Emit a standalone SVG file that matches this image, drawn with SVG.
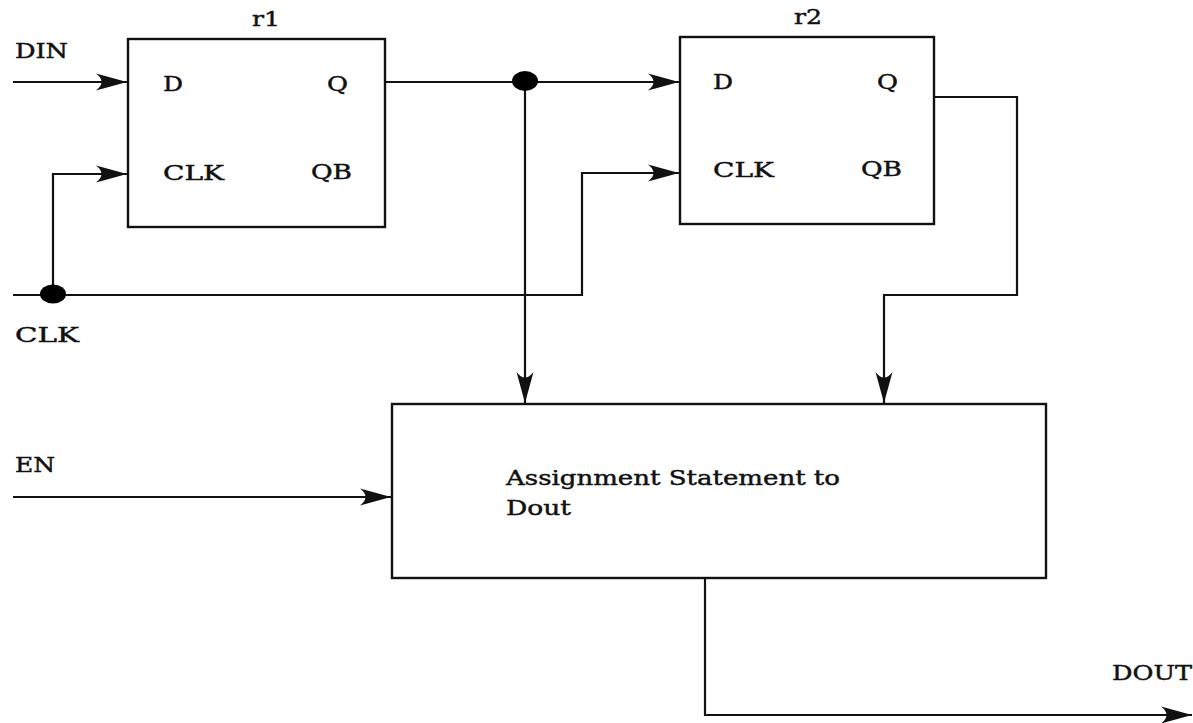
<svg xmlns="http://www.w3.org/2000/svg" width="1193" height="723" viewBox="0 0 1193 723">
<style>
.box{fill:#fff;stroke:#111;stroke-width:2.4}
.w{fill:none;stroke:#111;stroke-width:2.2}
.t{font-family:"DejaVu Serif","Liberation Serif",serif;font-size:20px;fill:#111;stroke:#111;stroke-width:0.45}
</style>
<defs>
<marker id="ah" markerUnits="userSpaceOnUse" viewBox="-31 -9 32 18" refX="0" refY="0" markerWidth="32" markerHeight="18" orient="auto">
<path d="M0,0 L-31,-8.5 Q-20,0 -31,8.5 Z" fill="#111"/>
</marker>
</defs>
<rect width="1193" height="723" fill="#fff"/>
<g id="connectors">
<path class="w" d="M13,82 H127" marker-end="url(#ah)"/>
<path class="w" d="M53,295 V174 H127" marker-end="url(#ah)"/>
<path class="w" d="M13,295 H582 V173 H679" marker-end="url(#ah)"/>
<path class="w" d="M385,82 H679" marker-end="url(#ah)"/>
<path class="w" d="M525,82 V403" marker-end="url(#ah)"/>
<path class="w" d="M934,97 H1017 V295 H884 V403" marker-end="url(#ah)"/>
<path class="w" d="M13,497 H391" marker-end="url(#ah)"/>
<path class="w" d="M705,578 V715 H1192" marker-end="url(#ah)"/>
<ellipse cx="53" cy="294" rx="13" ry="9.5" fill="#000"/>
<ellipse cx="525" cy="81" rx="13" ry="10" fill="#000"/>
</g>
<g id="r1">
<rect class="box" x="128" y="39" width="257" height="188"/>
<text class="t" x="252" y="26" textLength="28" lengthAdjust="spacingAndGlyphs">r1</text>
<text class="t" x="163" y="91" textLength="20" lengthAdjust="spacingAndGlyphs">D</text>
<text class="t" x="327" y="91" textLength="21" lengthAdjust="spacingAndGlyphs">Q</text>
<text class="t" x="163" y="180" textLength="61" lengthAdjust="spacingAndGlyphs">CLK</text>
<text class="t" x="311" y="179" textLength="41" lengthAdjust="spacingAndGlyphs">QB</text>
</g>
<g id="r2">
<rect class="box" x="680" y="37" width="254" height="187"/>
<text class="t" x="794" y="24" textLength="28" lengthAdjust="spacingAndGlyphs">r2</text>
<text class="t" x="713" y="89" textLength="20" lengthAdjust="spacingAndGlyphs">D</text>
<text class="t" x="877" y="89" textLength="21" lengthAdjust="spacingAndGlyphs">Q</text>
<text class="t" x="713" y="177" textLength="61" lengthAdjust="spacingAndGlyphs">CLK</text>
<text class="t" x="861" y="176" textLength="41" lengthAdjust="spacingAndGlyphs">QB</text>
</g>
<g id="assign">
<rect class="box" x="392" y="404" width="654" height="174"/>
<text class="t" x="506" y="485" textLength="334" lengthAdjust="spacingAndGlyphs">Assignment Statement to</text>
<text class="t" x="506" y="515" textLength="65" lengthAdjust="spacingAndGlyphs">Dout</text>
</g>
<g id="labels">
<text class="t" x="15" y="58" textLength="53" lengthAdjust="spacingAndGlyphs">DIN</text>
<text class="t" x="15" y="342" textLength="64" lengthAdjust="spacingAndGlyphs">CLK</text>
<text class="t" x="15" y="472" textLength="40" lengthAdjust="spacingAndGlyphs">EN</text>
<text class="t" x="1112" y="680" textLength="80" lengthAdjust="spacingAndGlyphs">DOUT</text>
</g>
</svg>
